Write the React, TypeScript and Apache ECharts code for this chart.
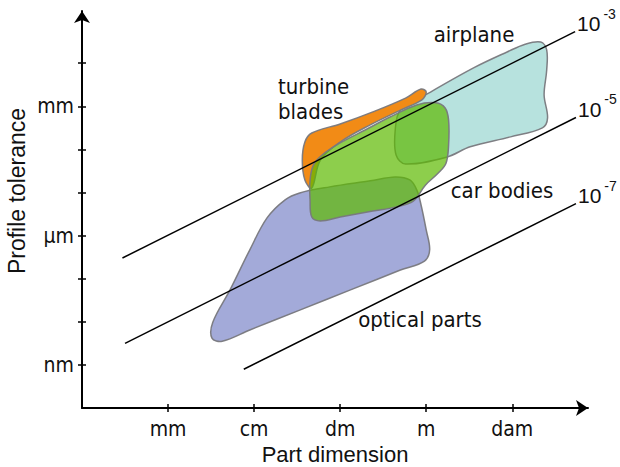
import React, { useEffect, useRef } from 'react';
import * as echarts from 'echarts';

// ---- axes (values are log10 of metres) ----
const xTickValues = [-3, -2, -1, 0, 1];
const xTickLabels = ['mm', 'cm', 'dm', 'm', 'dam'];
const yTickValues = [-9, -8, -7, -6, -5, -4, -3, -2];
const yLabelValues = [-9, -6, -3];
const yTickLabels = ['nm', 'μm', 'mm'];

// ---- regions: [log10 part dimension, log10 profile tolerance] ----
const airplane = [
  [-0.30, -3.09], [0.05, -2.67], [0.55, -2.11], [0.94, -1.74], [1.15, -1.56], [1.33, -1.51],
  [1.40, -1.69], [1.40, -2.16], [1.37, -2.74], [1.41, -3.27], [1.35, -3.50], [0.98, -3.71],
  [0.51, -3.94], [0.24, -4.18], [-0.24, -4.34], [-0.35, -4.13], [-0.36, -3.55],
];
const turbineBlades = [
  [-1.33, -3.62], [-1.00, -3.41], [-0.62, -3.13], [-0.24, -2.81], [-0.06, -2.60], [0.00, -2.67],
  [-0.05, -2.85], [-0.30, -3.09], [-0.65, -3.43], [-1.00, -3.83], [-1.23, -4.25], [-1.33, -4.90],
  [-1.41, -4.71], [-1.44, -4.25], [-1.41, -3.83],
];
const carBodies = [
  [-1.31, -4.36], [-1.21, -4.13], [-1.00, -3.85], [-0.71, -3.55], [-0.42, -3.25], [-0.11, -2.97],
  [0.11, -2.92], [0.22, -3.04], [0.26, -3.32], [0.26, -3.90], [0.23, -4.32], [0.14, -4.55],
  [-0.01, -4.83], [-0.15, -5.20], [-0.36, -5.34], [-0.62, -5.43], [-1.00, -5.57], [-1.23, -5.66],
  [-1.33, -5.57], [-1.35, -5.17], [-1.35, -4.71],
];
const opticalParts = [
  [-1.64, -5.17], [-1.47, -5.01], [-1.12, -4.87], [-0.65, -4.73], [-0.36, -4.64], [-0.19, -4.71],
  [-0.11, -4.94], [-0.06, -5.29], [0.00, -5.87], [0.04, -6.33], [-0.02, -6.59], [-0.30, -6.80],
  [-0.88, -7.26], [-1.47, -7.73], [-2.05, -8.19], [-2.37, -8.45], [-2.49, -8.38], [-2.48, -8.01],
  [-2.28, -7.26], [-2.05, -6.33], [-1.85, -5.59],
];

// ---- tolerance / dimension ratio lines ----
const ratioExponents = ['-3', '-5', '-7'];
const ratioLine3 = [[-3.53, -6.52], [1.73, -1.27]];
const ratioLine5 = [[-3.50, -8.50], [1.74, -3.26]];
const ratioLine7 = [[-2.12, -9.10], [1.74, -5.26]];

const regionNames = ['airplane', 'turbine\nblades', 'car bodies', 'optical parts'];

const LABEL_FONT = '"DejaVu Sans Condensed", "DejaVu Sans", sans-serif';
const TITLE_FONT = '"Liberation Sans", Arial, sans-serif';

function blobSeries(data: number[][], z: number, style: any) {
  return {
    type: 'custom',
    silent: true,
    z,
    data,
    encode: { x: 0, y: 1 },
    renderItem: (params: any, api: any) => {
      if (params.dataIndex !== 0) return null;
      const pts = data.map((p) => api.coord(p));
      return {
        type: 'polygon',
        shape: { points: pts, smooth: 0.35 },
        style: { stroke: 'rgba(120,120,125,0.95)', lineWidth: 1.5, ...style },
      };
    },
  };
}

function ratioSeries(data: number[][], exp: string) {
  return {
    type: 'line',
    silent: true,
    z: 10,
    data,
    symbol: 'none',
    lineStyle: { color: '#000', width: 1.5 },
    endLabel: {
      show: true,
      distance: 2,
      offset: [0, -8],
      formatter: () => `{b|10}{s|${exp}}`,
      rich: {
        b: { fontFamily: TITLE_FONT, fontSize: 21, color: '#111', lineHeight: 24, verticalAlign: 'middle' },
        s: { fontFamily: TITLE_FONT, fontSize: 14, color: '#111', lineHeight: 14, verticalAlign: 'middle', padding: [0, 0, 20, 3] },
      },
    },
  };
}

function textStyle(text: string, align: string, size: number, font: string, extra: any = {}) {
  return {
    text, fontFamily: font, fontSize: size, fill: '#111',
    align, verticalAlign: 'middle', textAlign: align, textVerticalAlign: 'middle', ...extra,
  };
}

export default function App() {
  const ref = useRef<HTMLDivElement>(null);
  useEffect(() => {
    if (!ref.current) return;
    const chart = echarts.init(ref.current, null, { renderer: 'svg' });
    const axisLineStyle = { color: '#000', width: 2 };
    const tickStyle = { color: '#000', width: 1.5 };
    const xMin = -4, xMax = 1.88, yMin = -10, yMax = -0.79;
    const option: any = {
      animation: false,
      grid: { left: 82, right: 32, top: 11, bottom: 59, containLabel: false, outerBoundsMode: 'none' },
      xAxis: [
        {
          type: 'value', min: xMin, max: xMax, position: 'bottom',
          axisLine: { show: true, onZero: false, lineStyle: axisLineStyle, symbol: ['none', 'arrow'], symbolSize: [12, 12] },
          axisTick: { show: true, customValues: xTickValues, length: 4, lineStyle: tickStyle },
          axisLabel: {
            customValues: xTickValues, margin: 10, fontFamily: LABEL_FONT, fontSize: 21, color: '#111',
            formatter: (v: number) => xTickLabels[xTickValues.indexOf(Math.round(v))] ?? '',
          },
          splitLine: { show: false },
          name: 'Part dimension', nameLocation: 'middle', nameGap: 35,
          nameTextStyle: { fontFamily: TITLE_FONT, fontSize: 22, lineHeight: 22, color: '#111' },
        },
        {
          type: 'value', min: xMin, max: xMax, position: 'bottom', offset: 0,
          axisLine: { show: false, onZero: false },
          axisTick: { show: true, inside: true, customValues: xTickValues, length: 4, lineStyle: tickStyle },
          axisLabel: { show: false }, splitLine: { show: false },
        },
      ],
      yAxis: [
        {
          type: 'value', min: yMin, max: yMax, position: 'left',
          axisLine: { show: true, onZero: false, lineStyle: axisLineStyle, symbol: ['none', 'arrow'], symbolSize: [12, 12] },
          axisTick: { show: true, customValues: yTickValues, length: 4, lineStyle: tickStyle },
          axisLabel: {
            customValues: yLabelValues, margin: 8, fontFamily: LABEL_FONT, fontSize: 21, color: '#111',
            formatter: (v: number) => yTickLabels[yLabelValues.indexOf(Math.round(v))] ?? '',
          },
          splitLine: { show: false },
        },
        {
          type: 'value', min: yMin, max: yMax, position: 'left', offset: 0,
          axisLine: { show: false, onZero: false },
          axisTick: { show: true, inside: true, customValues: yTickValues, length: 4, lineStyle: tickStyle },
          axisLabel: { show: false }, splitLine: { show: false },
        },
      ],
      series: [
        blobSeries(airplane, 2, { fill: '#b7e2de' }),
        blobSeries(turbineBlades, 3, { fill: '#f28b16' }),
        blobSeries(opticalParts, 4, { fill: '#a3aad9' }),
        blobSeries(carBodies, 5, { fill: 'rgba(93,185,0,0.70)' }),
        ratioSeries(ratioLine3, ratioExponents[0]),
        ratioSeries(ratioLine5, ratioExponents[1]),
        ratioSeries(ratioLine7, ratioExponents[2]),
      ],
      graphic: [
        { type: 'text', x: 17, y: 191, rotation: Math.PI / 2, silent: true, style: textStyle('Profile tolerance', 'center', 23, TITLE_FONT) },
        { type: 'text', x: 474, y: 34, silent: true, style: textStyle(regionNames[0], 'center', 22, LABEL_FONT) },
        { type: 'text', x: 278, y: 99, silent: true, style: textStyle(regionNames[1], 'left', 22, LABEL_FONT, { lineHeight: 25 }) },
        { type: 'text', x: 502, y: 190, silent: true, style: textStyle(regionNames[2], 'center', 22, LABEL_FONT) },
        { type: 'text', x: 420, y: 319, silent: true, style: textStyle(regionNames[3], 'center', 22, LABEL_FONT) },
      ],
    };
    chart.setOption(option);
    return () => chart.dispose();
  }, []);
  return <div ref={ref} style={{ position: 'absolute', left: 0, top: 0, width: 620, height: 467 }} />;
}
